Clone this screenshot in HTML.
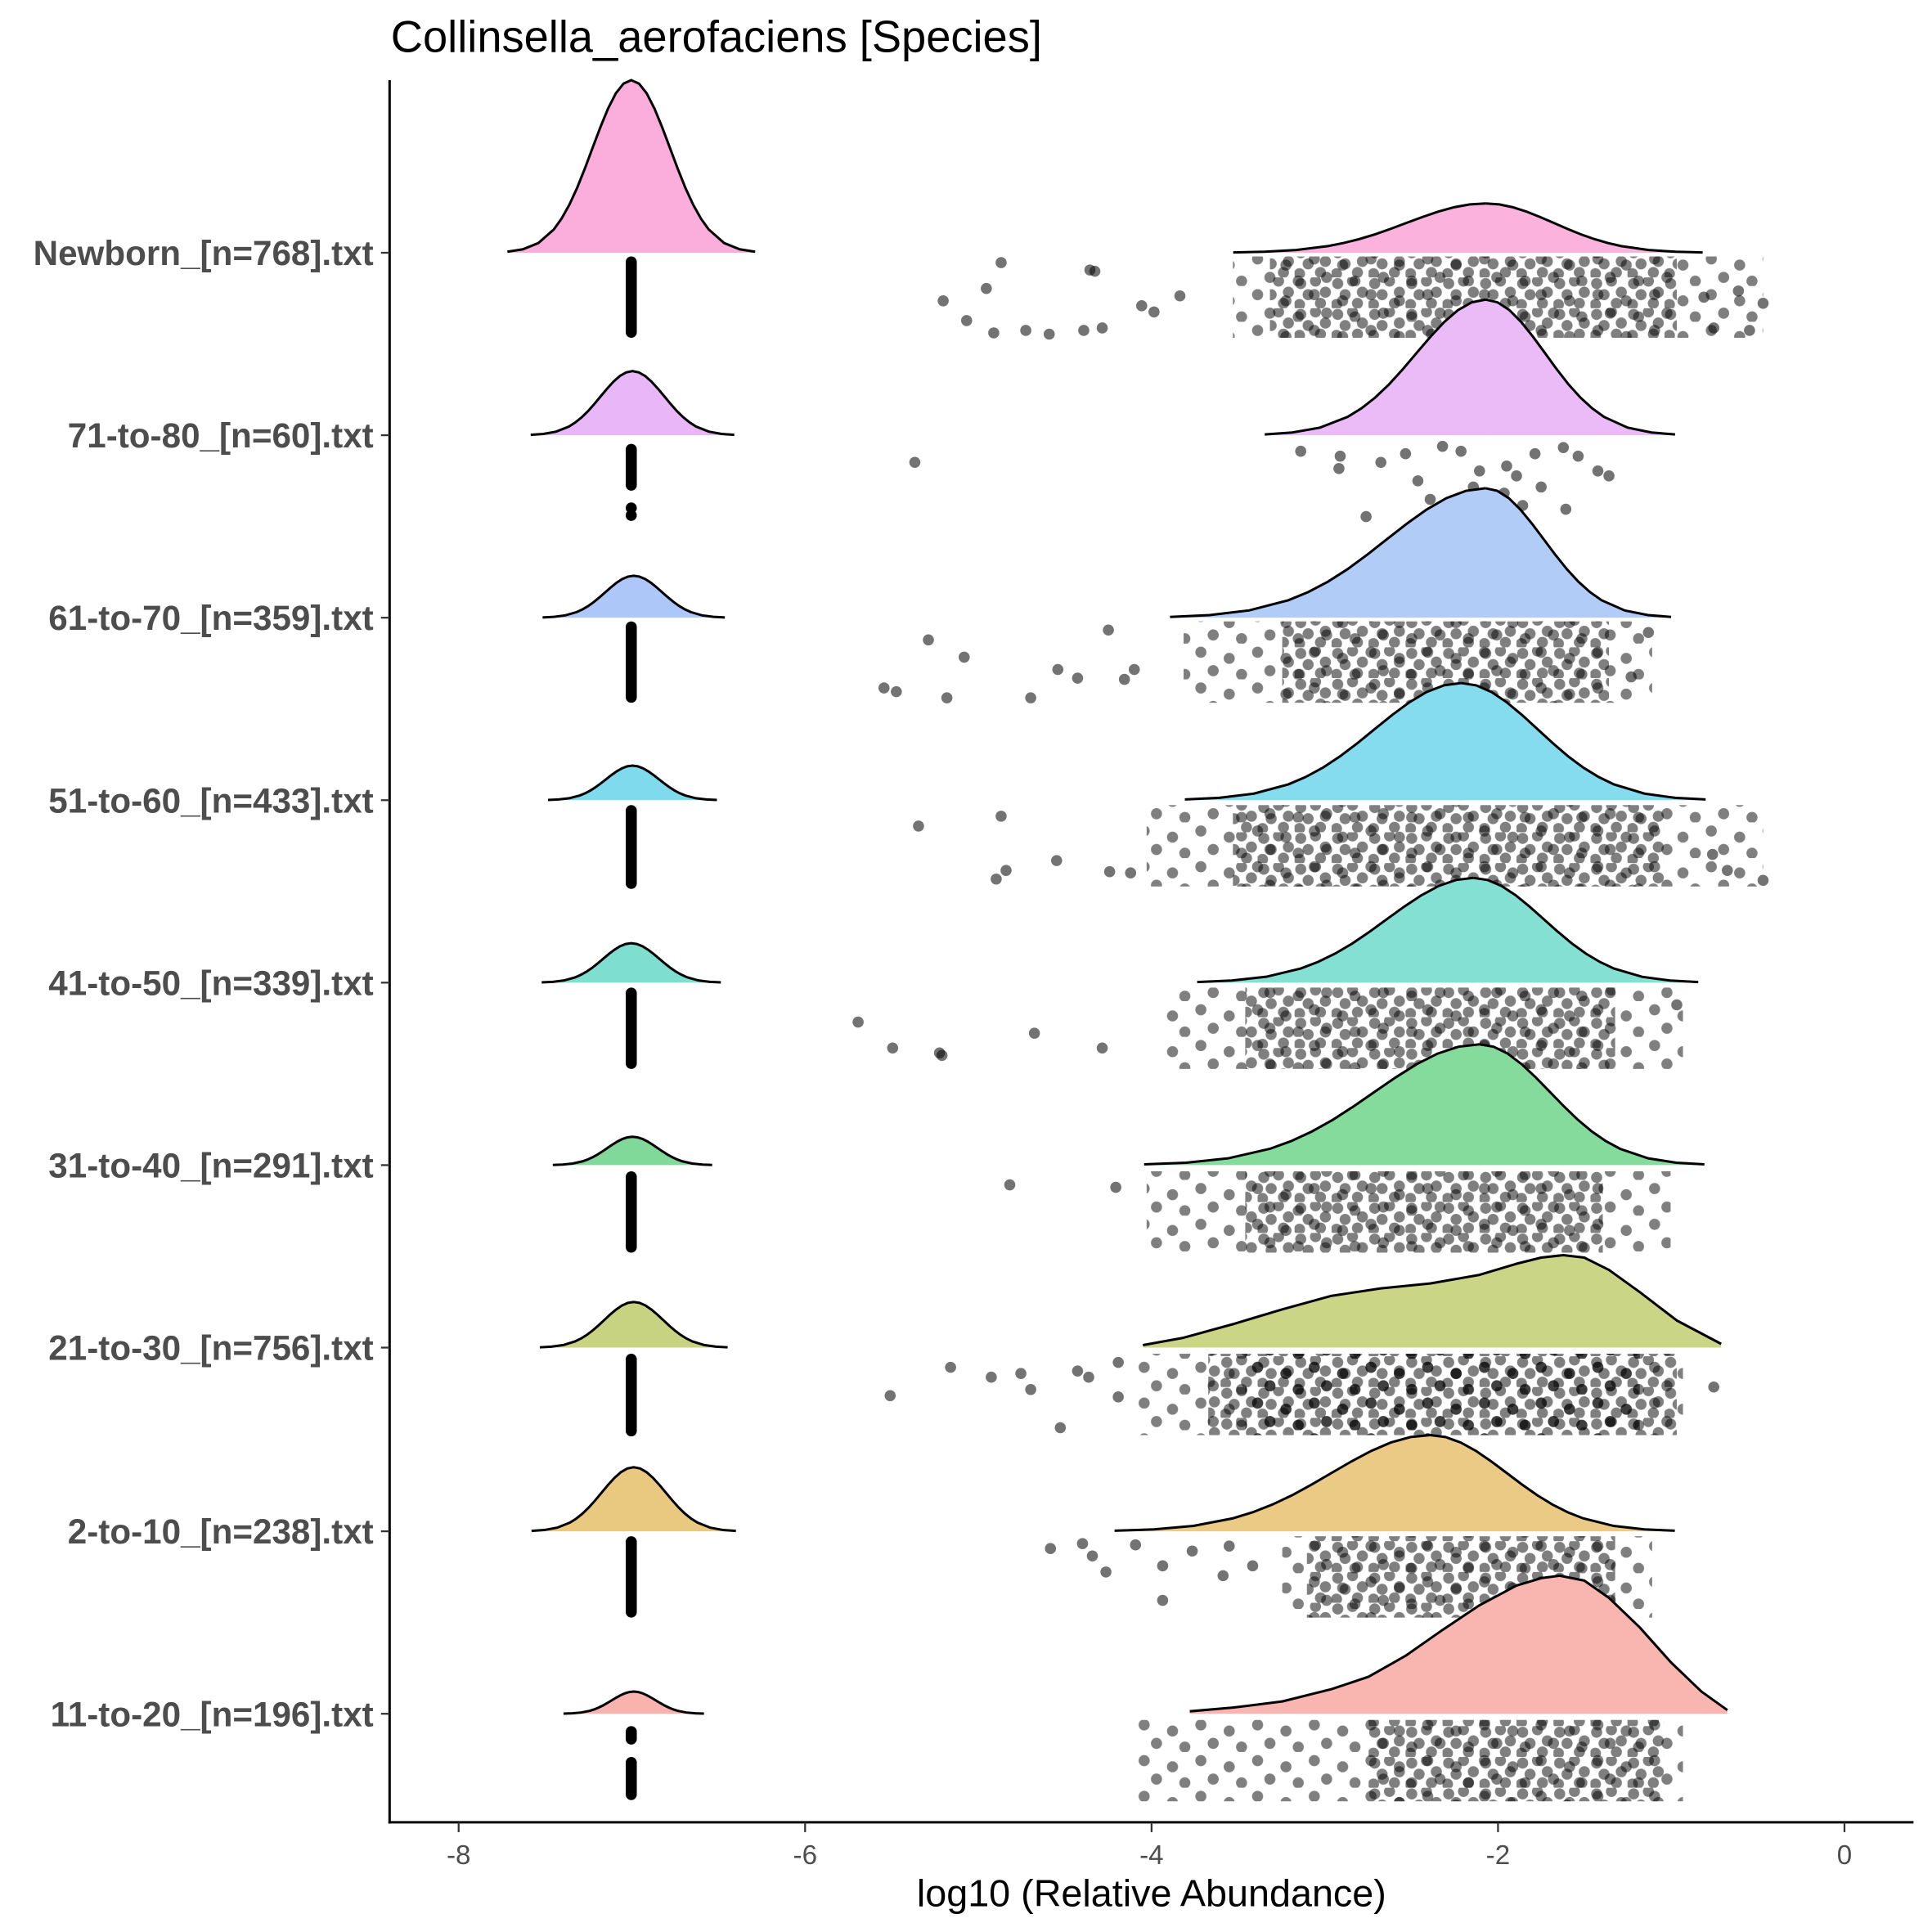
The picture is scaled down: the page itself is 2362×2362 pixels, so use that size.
<!DOCTYPE html>
<html><head><meta charset="utf-8"><style>body{margin:0;background:#fff}svg{display:block}</style></head>
<body>
<svg width="2362" height="2362" viewBox="0 0 1567 1567" xmlns="http://www.w3.org/2000/svg" xmlns:xlink="http://www.w3.org/1999/xlink" font-family="Liberation Sans, sans-serif">
<defs>
<path id="gf" d="M-3.2,0 L-3.2,-0.006 L-2.8,-0.02 L-2.4,-0.056 L-2,-0.135 L-1.8,-0.198 L-1.6,-0.278 L-1.4,-0.375 L-1.2,-0.487 L-1,-0.607 L-0.8,-0.726 L-0.6,-0.835 L-0.4,-0.923 L-0.2,-0.98 L0,-1 L0.2,-0.98 L0.4,-0.923 L0.6,-0.835 L0.8,-0.726 L1,-0.607 L1.2,-0.487 L1.4,-0.375 L1.6,-0.278 L1.8,-0.198 L2,-0.135 L2.4,-0.056 L2.8,-0.02 L3.2,-0.006 L3.2,0 Z"/>
<path id="gs" vector-effect="non-scaling-stroke" fill="none" stroke="#000" stroke-width="3" d="M-3.2,-0.006 L-2.8,-0.02 L-2.4,-0.056 L-2,-0.135 L-1.8,-0.198 L-1.6,-0.278 L-1.4,-0.375 L-1.2,-0.487 L-1,-0.607 L-0.8,-0.726 L-0.6,-0.835 L-0.4,-0.923 L-0.2,-0.98 L0,-1 L0.2,-0.98 L0.4,-0.923 L0.6,-0.835 L0.8,-0.726 L1,-0.607 L1.2,-0.487 L1.4,-0.375 L1.6,-0.278 L1.8,-0.198 L2,-0.135 L2.4,-0.056 L2.8,-0.02 L3.2,-0.006"/>
<path id="lf" d="M-3.2,0 L-3.2,-0.006 L-2.8,-0.02 L-2.4,-0.056 L-2,-0.135 L-1.8,-0.198 L-1.6,-0.278 L-1.4,-0.375 L-1.2,-0.487 L-1,-0.607 L-0.8,-0.726 L-0.6,-0.835 L-0.4,-0.923 L-0.2,-0.98 L0.02,-1 L0.02,0 Z"/>
<path id="ls" vector-effect="non-scaling-stroke" fill="none" stroke="#000" stroke-width="3" d="M-3.2,-0.006 L-2.8,-0.02 L-2.4,-0.056 L-2,-0.135 L-1.8,-0.198 L-1.6,-0.278 L-1.4,-0.375 L-1.2,-0.487 L-1,-0.607 L-0.8,-0.726 L-0.6,-0.835 L-0.4,-0.923 L-0.2,-0.98 L0,-1"/>
<path id="rf" d="M-0.02,0 L-0.02,-1 L0.2,-0.98 L0.4,-0.923 L0.6,-0.835 L0.8,-0.726 L1,-0.607 L1.2,-0.487 L1.4,-0.375 L1.6,-0.278 L1.8,-0.198 L2,-0.135 L2.4,-0.056 L2.8,-0.02 L3.2,-0.006 L3.2,0 Z"/>
<path id="rs" vector-effect="non-scaling-stroke" fill="none" stroke="#000" stroke-width="3" d="M0,-1 L0.2,-0.98 L0.4,-0.923 L0.6,-0.835 L0.8,-0.726 L1,-0.607 L1.2,-0.487 L1.4,-0.375 L1.6,-0.278 L1.8,-0.198 L2,-0.135 L2.4,-0.056 L2.8,-0.02 L3.2,-0.006"/>
<pattern id="pd" patternUnits="userSpaceOnUse" width="30" height="25">
<g fill="#000" fill-opacity="0.5"><circle cx="5" cy="5" r="4.5"/><circle cx="17" cy="3" r="4.5"/><circle cx="25" cy="12" r="4.5"/><circle cx="11" cy="14" r="4.5"/><circle cx="21" cy="21" r="4.5"/><circle cx="4" cy="22" r="4.5"/></g>
</pattern>
<pattern id="ps" patternUnits="userSpaceOnUse" width="46" height="29">
<g fill="#000" fill-opacity="0.5"><circle cx="8" cy="7" r="4.5"/><circle cx="31" cy="12" r="4.5"/><circle cx="18" cy="22" r="4.5"/><circle cx="41" cy="25" r="4.5"/></g>
</pattern>
</defs>
<rect width="1567" height="1567" fill="#fff"/>

<!-- left densities -->
<g>
<use xlink:href="#gf" transform="translate(512,205) scale(31.4,140)" fill="#FBAEDC"/><use xlink:href="#gs" transform="translate(512,205) scale(31.4,140)"/>
<use xlink:href="#gf" transform="translate(513,353) scale(25.8,52)" fill="#E9B6F8"/><use xlink:href="#gs" transform="translate(513,353) scale(25.8,52)"/>
<use xlink:href="#gf" transform="translate(514,501) scale(23.1,34)" fill="#ADC8F8"/><use xlink:href="#gs" transform="translate(514,501) scale(23.1,34)"/>
<use xlink:href="#gf" transform="translate(513,649) scale(21.4,28)" fill="#7FDAEE"/><use xlink:href="#gs" transform="translate(513,649) scale(21.4,28)"/>
<use xlink:href="#gf" transform="translate(512,797) scale(22.7,32)" fill="#7EDFD0"/><use xlink:href="#gs" transform="translate(512,797) scale(22.7,32)"/>
<use xlink:href="#gf" transform="translate(513,945) scale(20.2,23)" fill="#80D999"/><use xlink:href="#gs" transform="translate(513,945) scale(20.2,23)"/>
<use xlink:href="#gf" transform="translate(514,1093) scale(23.8,37)" fill="#C8D381"/><use xlink:href="#gs" transform="translate(514,1093) scale(23.8,37)"/>
<use xlink:href="#gf" transform="translate(514,1242) scale(25.9,52)" fill="#E9C87F"/><use xlink:href="#gs" transform="translate(514,1242) scale(25.9,52)"/>
<use xlink:href="#gf" transform="translate(514,1390) scale(17.8,18)" fill="#F9B3AE"/><use xlink:href="#gs" transform="translate(514,1390) scale(17.8,18)"/>
</g>

<!-- left point columns -->
<g fill="#000">
<rect x="507.5" y="208" width="9" height="66" rx="4.5"/>
<rect x="507.5" y="360" width="9" height="38" rx="4.5"/><circle cx="512" cy="412" r="4.5"/><circle cx="512" cy="418" r="4.5"/>
<rect x="507.5" y="504" width="9" height="66" rx="4.5"/>
<rect x="507.5" y="653" width="9" height="68" rx="4.5"/>
<rect x="507.5" y="801" width="9" height="66" rx="4.5"/>
<rect x="507.5" y="950" width="9" height="66" rx="4.5"/>
<rect x="507.5" y="1098" width="9" height="67" rx="4.5"/>
<rect x="507.5" y="1246" width="9" height="66" rx="4.5"/>
<rect x="507.5" y="1400" width="9" height="15" rx="4.5"/><rect x="507.5" y="1425" width="9" height="35" rx="4.5"/>
</g>

<!-- point clouds -->
<g>
<rect x="1000" y="208" width="430" height="66" fill="url(#ps)"/>
<rect x="1030" y="208" width="330" height="66" fill="url(#pd)"/>
<rect x="960" y="504" width="380" height="66" fill="url(#ps)"/>
<rect x="1040" y="504" width="265" height="66" fill="url(#pd)"/>
<rect x="930" y="653" width="500" height="66" fill="url(#ps)"/>
<rect x="1000" y="653" width="350" height="66" fill="url(#pd)"/>
<rect x="945" y="801" width="420" height="66" fill="url(#ps)"/>
<rect x="1010" y="801" width="300" height="66" fill="url(#pd)"/>
<rect x="930" y="950" width="425" height="66" fill="url(#ps)"/>
<rect x="1010" y="950" width="290" height="66" fill="url(#pd)"/>
<rect x="920" y="1098" width="445" height="66" fill="url(#ps)"/>
<rect x="980" y="1098" width="380" height="66" fill="url(#pd)"/>
<rect x="1010" y="1098" width="320" height="66" fill="url(#ps)"/>
<rect x="1040" y="1246" width="300" height="66" fill="url(#ps)"/>
<rect x="1060" y="1246" width="250" height="66" fill="url(#pd)"/>
<rect x="920" y="1395" width="445" height="66" fill="url(#ps)"/>
<rect x="1110" y="1395" width="240" height="66" fill="url(#pd)"/>
</g>
<g fill="#000" fill-opacity="0.55">
<circle cx="812" cy="213" r="4.5"/><circle cx="765" cy="244" r="4.5"/><circle cx="800" cy="234" r="4.5"/><circle cx="784" cy="260" r="4.5"/><circle cx="806" cy="270" r="4.5"/><circle cx="832" cy="268" r="4.5"/><circle cx="851" cy="271" r="4.5"/><circle cx="884" cy="219" r="4.5"/><circle cx="888" cy="220" r="4.5"/><circle cx="894" cy="266" r="4.5"/><circle cx="879" cy="268" r="4.5"/><circle cx="926" cy="248" r="4.5"/><circle cx="936" cy="253" r="4.5"/><circle cx="957" cy="240" r="4.5"/><circle cx="1382" cy="241" r="4.5"/><circle cx="1410" cy="236" r="4.5"/><circle cx="1430" cy="246" r="4.5"/><circle cx="1419" cy="268" r="4.5"/><circle cx="1390" cy="266" r="4.5"/>
<circle cx="742" cy="375" r="4.5"/><circle cx="1055" cy="366" r="4.5"/><circle cx="1086" cy="380" r="4.5"/><circle cx="1108" cy="419" r="4.5"/><circle cx="1140" cy="368" r="4.5"/><circle cx="1222" cy="378" r="4.5"/><circle cx="1270" cy="413" r="4.5"/><circle cx="1296" cy="382" r="4.5"/>
<circle cx="1120" cy="375" r="4.5"/><circle cx="1170" cy="362" r="4.5"/><circle cx="1185" cy="366" r="4.5"/><circle cx="1200" cy="382" r="4.5"/><circle cx="1245" cy="368" r="4.5"/><circle cx="1268" cy="363" r="4.5"/><circle cx="1280" cy="370" r="4.5"/><circle cx="1305" cy="386" r="4.5"/><circle cx="1160" cy="405" r="4.5"/><circle cx="1175" cy="410" r="4.5"/><circle cx="1190" cy="406" r="4.5"/><circle cx="1210" cy="405" r="4.5"/><circle cx="1220" cy="400" r="4.5"/><circle cx="1235" cy="410" r="4.5"/><circle cx="1250" cy="395" r="4.5"/><circle cx="1195" cy="395" r="4.5"/><circle cx="1150" cy="390" r="4.5"/><circle cx="1230" cy="386" r="4.5"/><circle cx="1087" cy="370" r="4.5"/>
<circle cx="753" cy="519" r="4.5"/><circle cx="782" cy="533" r="4.5"/><circle cx="717" cy="558" r="4.5"/><circle cx="727" cy="561" r="4.5"/><circle cx="768" cy="566" r="4.5"/><circle cx="836" cy="566" r="4.5"/><circle cx="858" cy="543" r="4.5"/><circle cx="874" cy="550" r="4.5"/><circle cx="899" cy="511" r="4.5"/><circle cx="912" cy="551" r="4.5"/><circle cx="920" cy="543" r="4.5"/><circle cx="1337" cy="513" r="4.5"/><circle cx="1323" cy="549" r="4.5"/>
<circle cx="745" cy="670" r="4.5"/><circle cx="812" cy="662" r="4.5"/><circle cx="816" cy="706" r="4.5"/><circle cx="808" cy="713" r="4.5"/><circle cx="857" cy="698" r="4.5"/><circle cx="900" cy="707" r="4.5"/><circle cx="917" cy="708" r="4.5"/><circle cx="1389" cy="693" r="4.5"/><circle cx="1401" cy="706" r="4.5"/><circle cx="1430" cy="714" r="4.5"/>
<circle cx="696" cy="829" r="4.5"/><circle cx="724" cy="850" r="4.5"/><circle cx="762" cy="854" r="4.5"/><circle cx="764" cy="856" r="4.5"/><circle cx="839" cy="838" r="4.5"/><circle cx="894" cy="850" r="4.5"/><circle cx="1360" cy="815" r="4.5"/>
<circle cx="819" cy="961" r="4.5"/><circle cx="905" cy="963" r="4.5"/>
<circle cx="771" cy="1109" r="4.5"/><circle cx="722" cy="1132" r="4.5"/><circle cx="804" cy="1117" r="4.5"/><circle cx="828" cy="1114" r="4.5"/><circle cx="836" cy="1127" r="4.5"/><circle cx="860" cy="1158" r="4.5"/><circle cx="874" cy="1112" r="4.5"/><circle cx="883" cy="1117" r="4.5"/><circle cx="907" cy="1105" r="4.5"/><circle cx="907" cy="1133" r="4.5"/><circle cx="1390" cy="1125" r="4.5"/>
<circle cx="852" cy="1256" r="4.5"/><circle cx="878" cy="1252" r="4.5"/><circle cx="886" cy="1262" r="4.5"/><circle cx="897" cy="1275" r="4.5"/><circle cx="921" cy="1253" r="4.5"/><circle cx="943" cy="1270" r="4.5"/><circle cx="943" cy="1298" r="4.5"/><circle cx="967" cy="1258" r="4.5"/><circle cx="992" cy="1278" r="4.5"/><circle cx="997" cy="1254" r="4.5"/><circle cx="1016" cy="1270" r="4.5"/>
</g>

<!-- right densities -->
<g>
<use xlink:href="#lf" transform="translate(1205,205) scale(64,40)" fill="#FBB3DE"/><use xlink:href="#rf" transform="translate(1205,205) scale(55,40)" fill="#FBB3DE"/>
<use xlink:href="#lf" transform="translate(1205,353) scale(56,110)" fill="#EBBBF8"/><use xlink:href="#rf" transform="translate(1205,353) scale(48,110)" fill="#EBBBF8"/>
<use xlink:href="#lf" transform="translate(1205,501) scale(80,105)" fill="#B2CCF8"/><use xlink:href="#rf" transform="translate(1205,501) scale(47,105)" fill="#B2CCF8"/>
<use xlink:href="#lf" transform="translate(1185,649) scale(70,95)" fill="#84DCEE"/><use xlink:href="#rf" transform="translate(1185,649) scale(62,95)" fill="#84DCEE"/>
<use xlink:href="#lf" transform="translate(1195,797) scale(70,85)" fill="#83E0D2"/><use xlink:href="#rf" transform="translate(1195,797) scale(57,85)" fill="#83E0D2"/>
<use xlink:href="#lf" transform="translate(1200,945) scale(85,98)" fill="#85DB9C"/><use xlink:href="#rf" transform="translate(1200,945) scale(57,98)" fill="#85DB9C"/>
<path d="M927,1093 L927,1091 L960,1085 L1000,1074 L1040,1062 L1080,1051 L1120,1045 L1160,1041 L1200,1034 L1230,1025 L1250,1020 L1268,1018 L1285,1020 L1305,1030 L1330,1048 L1360,1071 L1396,1090 L1396,1093 Z" fill="#CAD585"/>
<use xlink:href="#lf" transform="translate(1160,1242) scale(80,78)" fill="#EACA84"/><use xlink:href="#rf" transform="translate(1160,1242) scale(62,78)" fill="#EACA84"/>
<path d="M965,1390 L965,1388 L1000,1385 L1040,1380 L1080,1370 L1110,1360 L1140,1343 L1170,1322 L1200,1302 L1230,1286 L1250,1280 L1265,1278 L1285,1282 L1305,1296 L1330,1320 L1355,1348 L1380,1372 L1401,1387 L1401,1390 Z" fill="#F9B6B1"/>
</g>
<g>
<use xlink:href="#ls" transform="translate(1205,205) scale(64,40)"/><use xlink:href="#rs" transform="translate(1205,205) scale(55,40)"/>
<use xlink:href="#ls" transform="translate(1205,353) scale(56,110)"/><use xlink:href="#rs" transform="translate(1205,353) scale(48,110)"/>
<use xlink:href="#ls" transform="translate(1205,501) scale(80,105)"/><use xlink:href="#rs" transform="translate(1205,501) scale(47,105)"/>
<use xlink:href="#ls" transform="translate(1185,649) scale(70,95)"/><use xlink:href="#rs" transform="translate(1185,649) scale(62,95)"/>
<use xlink:href="#ls" transform="translate(1195,797) scale(70,85)"/><use xlink:href="#rs" transform="translate(1195,797) scale(57,85)"/>
<use xlink:href="#ls" transform="translate(1200,945) scale(85,98)"/><use xlink:href="#rs" transform="translate(1200,945) scale(57,98)"/>
<use xlink:href="#ls" transform="translate(1160,1242) scale(80,78)"/><use xlink:href="#rs" transform="translate(1160,1242) scale(62,78)"/>
</g>
<g fill="none" stroke="#000" stroke-width="2" stroke-linejoin="round">
<path d="M927,1091 L960,1085 L1000,1074 L1040,1062 L1080,1051 L1120,1045 L1160,1041 L1200,1034 L1230,1025 L1250,1020 L1268,1018 L1285,1020 L1305,1030 L1330,1048 L1360,1071 L1396,1090"/>
<path d="M965,1388 L1000,1385 L1040,1380 L1080,1370 L1110,1360 L1140,1343 L1170,1322 L1200,1302 L1230,1286 L1250,1280 L1265,1278 L1285,1282 L1305,1296 L1330,1320 L1355,1348 L1380,1372 L1401,1387"/>
</g>

<line x1="316" y1="65" x2="316" y2="1479" stroke="#000" stroke-width="2"/>
<line x1="315" y1="1478" x2="1552" y2="1478" stroke="#000" stroke-width="2"/>
<g stroke="#333" stroke-width="1.5">
<line x1="372" y1="1478" x2="372" y2="1486"/><line x1="653" y1="1478" x2="653" y2="1486"/><line x1="934" y1="1478" x2="934" y2="1486"/><line x1="1215" y1="1478" x2="1215" y2="1486"/><line x1="1496" y1="1478" x2="1496" y2="1486"/>
</g>
<g font-size="22" fill="#4d4d4d" text-anchor="middle">
<text x="372" y="1512">-8</text><text x="653" y="1512">-6</text><text x="934" y="1512">-4</text><text x="1215" y="1512">-2</text><text x="1496" y="1512">0</text>
</g>
<text x="934" y="1546" font-size="31" text-anchor="middle" fill="#000">log10 (Relative Abundance)</text>
<text x="317" y="42" font-size="36" fill="#000">Collinsella_aerofaciens [Species]</text>
<g font-size="28" font-weight="bold" fill="#4d4d4d" text-anchor="end">
<text x="303" y="215">Newborn_[n=768].txt</text>
<text x="303" y="363">71-to-80_[n=60].txt</text>
<text x="303" y="511">61-to-70_[n=359].txt</text>
<text x="303" y="659">51-to-60_[n=433].txt</text>
<text x="303" y="807">41-to-50_[n=339].txt</text>
<text x="303" y="955">31-to-40_[n=291].txt</text>
<text x="303" y="1103">21-to-30_[n=756].txt</text>
<text x="303" y="1252">2-to-10_[n=238].txt</text>
<text x="303" y="1400">11-to-20_[n=196].txt</text>
</g>
<g stroke="#333" stroke-width="1.5">
<line x1="309" y1="205" x2="316" y2="205"/><line x1="309" y1="353" x2="316" y2="353"/><line x1="309" y1="501" x2="316" y2="501"/><line x1="309" y1="649" x2="316" y2="649"/><line x1="309" y1="797" x2="316" y2="797"/><line x1="309" y1="945" x2="316" y2="945"/><line x1="309" y1="1093" x2="316" y2="1093"/><line x1="309" y1="1242" x2="316" y2="1242"/><line x1="309" y1="1390" x2="316" y2="1390"/>
</g>
</svg>
</body></html>
